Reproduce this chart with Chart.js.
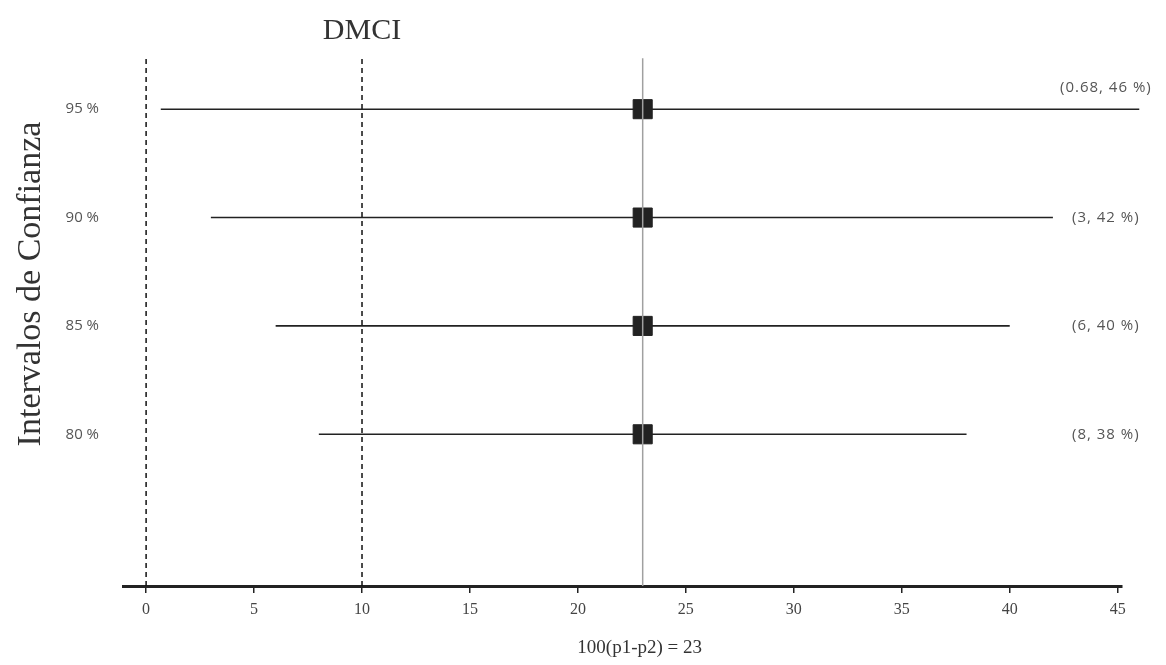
<!DOCTYPE html>
<html>
<head>
<meta charset="utf-8">
<script src="https://cdn.jsdelivr.net/npm/chart.js@4"></script>
<style>
  html, body { margin: 0; padding: 0; background: #fff; }
  #wrap { width: 1166px; height: 665px; }
</style>
</head>
<body>
<div id="wrap"><canvas id="grafico" width="1166" height="665"></canvas></div>
<script>
// niveles de confianza (de arriba hacia abajo)
const niveles = ["95 %", "90 %", "85 %", "80 %"];
const filas = [4, 3, 2, 1];
const limInf = [0.68, 3, 6, 8];
const limSup = [46, 42, 40, 38];
const estimado = 23;
const etiquetas = ["(0.68, 46 %)", "(3, 42 %)", "(6, 40 %)", "(8, 38 %)"];
const xTicks = [0, 5, 10, 15, 20, 25, 30, 35, 40, 45];
const lineasDMCI = [0, 10];

const yMin = -0.4, yMax = 4.5;

let datasets = [];

// intervalos
for (let i = 0; i < filas.length; i++) {
  datasets.push({
    type: 'line',
    data: [{x: limInf[i], y: filas[i]}, {x: limSup[i], y: filas[i]}],
    borderColor: "#222",
    borderWidth: 1.6,
    pointRadius: 0,
    clip: false,
    order: 3
  });
}

// lineas punteadas
lineasDMCI.forEach(function(v){
  datasets.push({
    type: 'line',
    data: [{x: v, y: yMin}, {x: v, y: yMax}],
    borderColor: "#111",
    borderWidth: 1.5,
    borderDash: [5, 4],
    pointRadius: 0,
    order: 3
  });
});

// estimado puntual
datasets.push({
  type: 'scatter',
  data: filas.map(function(f){ return {x: estimado, y: f}; }),
  backgroundColor: "#222",
  borderColor: "#222",
  pointStyle: 'rect',
  pointRadius: 13.5,
  order: 2
});

// linea del estimado
datasets.push({
  type: 'line',
  data: [{x: estimado, y: yMin}, {x: estimado, y: 4.47}],
  borderColor: "#a0a0a0",
  borderWidth: 1.5,
  pointRadius: 0,
  order: 0
});

const textos = {
  id: 'textos',
  afterDraw(chart) {
    const ctx = chart.ctx;
    const xs = chart.scales.x, ys = chart.scales.y;
    ctx.save();
    // DMCI
    ctx.fillStyle = "#333";
    ctx.font = "30px 'Liberation Serif'";
    ctx.textAlign = "center";
    ctx.textBaseline = "middle";
    ctx.fillText("DMCI", xs.getPixelForValue(lineasDMCI[1]), 31);
    // eje y
    ctx.save();
    ctx.translate(31, 284);
    ctx.rotate(-Math.PI / 2);
    ctx.font = "34px 'Liberation Serif'";
    ctx.fillText("Intervalos de Confianza", 0, 0);
    ctx.restore();
    // eje x
    ctx.font = "19px 'Liberation Serif'";
    ctx.fillText("100(p1-p2) = " + estimado, xs.getPixelForValue(estimado) - 3, 648);
    // etiquetas de intervalos
    ctx.fillStyle = "#555";
    ctx.font = "15px 'Open Sans'";
    ctx.letterSpacing = "1px";
    ctx.textAlign = "left";
    for (let i = 0; i < filas.length; i++) {
      let y = ys.getPixelForValue(filas[i]);
      let x = chart.chartArea.right - 50;
      if (i === 0) { y -= 21; x -= 12; }
      ctx.fillText(etiquetas[i], x, y);
    }
    ctx.restore();
  }
};

const chart = new Chart(document.getElementById("grafico"), {
  type: 'line',
  data: { datasets: datasets },
  options: {
    responsive: false,
    animation: false,
    layout: { padding: { top: 55, right: 44, left: 0, bottom: 0 } },
    plugins: {
      legend: { display: false },
      tooltip: { enabled: false }
    },
    scales: {
      x: {
        type: 'linear',
        min: -1.07,
        max: 45.2,
        afterBuildTicks: function(scale){
          scale.ticks = xTicks.map(function(v){ return {value: v}; });
        },
        afterFit: function(scale){ scale.height = 79; },
        border: { display: true, color: "#222", width: 3 },
        grid: { drawOnChartArea: false, drawTicks: true, tickLength: 7, color: "#222", lineWidth: 1.5 },
        ticks: {
          color: "#444",
          padding: 7,
          maxRotation: 0,
          font: { family: "'Liberation Serif'", size: 16 }
        }
      },
      y: {
        type: 'linear',
        min: yMin,
        max: yMax,
        afterBuildTicks: function(scale){
          scale.ticks = filas.map(function(v){ return {value: v}; });
        },
        afterFit: function(scale){ scale.width = 123; },
        border: { display: false },
        grid: { display: false },
        ticks: {
          color: "#555",
          padding: 16,
          font: { family: "'Open Sans'", size: 15 },
          callback: function(v){
            const i = filas.indexOf(v);
            return i >= 0 ? niveles[i] : "";
          }
        }
      }
    }
  },
  plugins: [textos]
});
</script>
</body>
</html>
